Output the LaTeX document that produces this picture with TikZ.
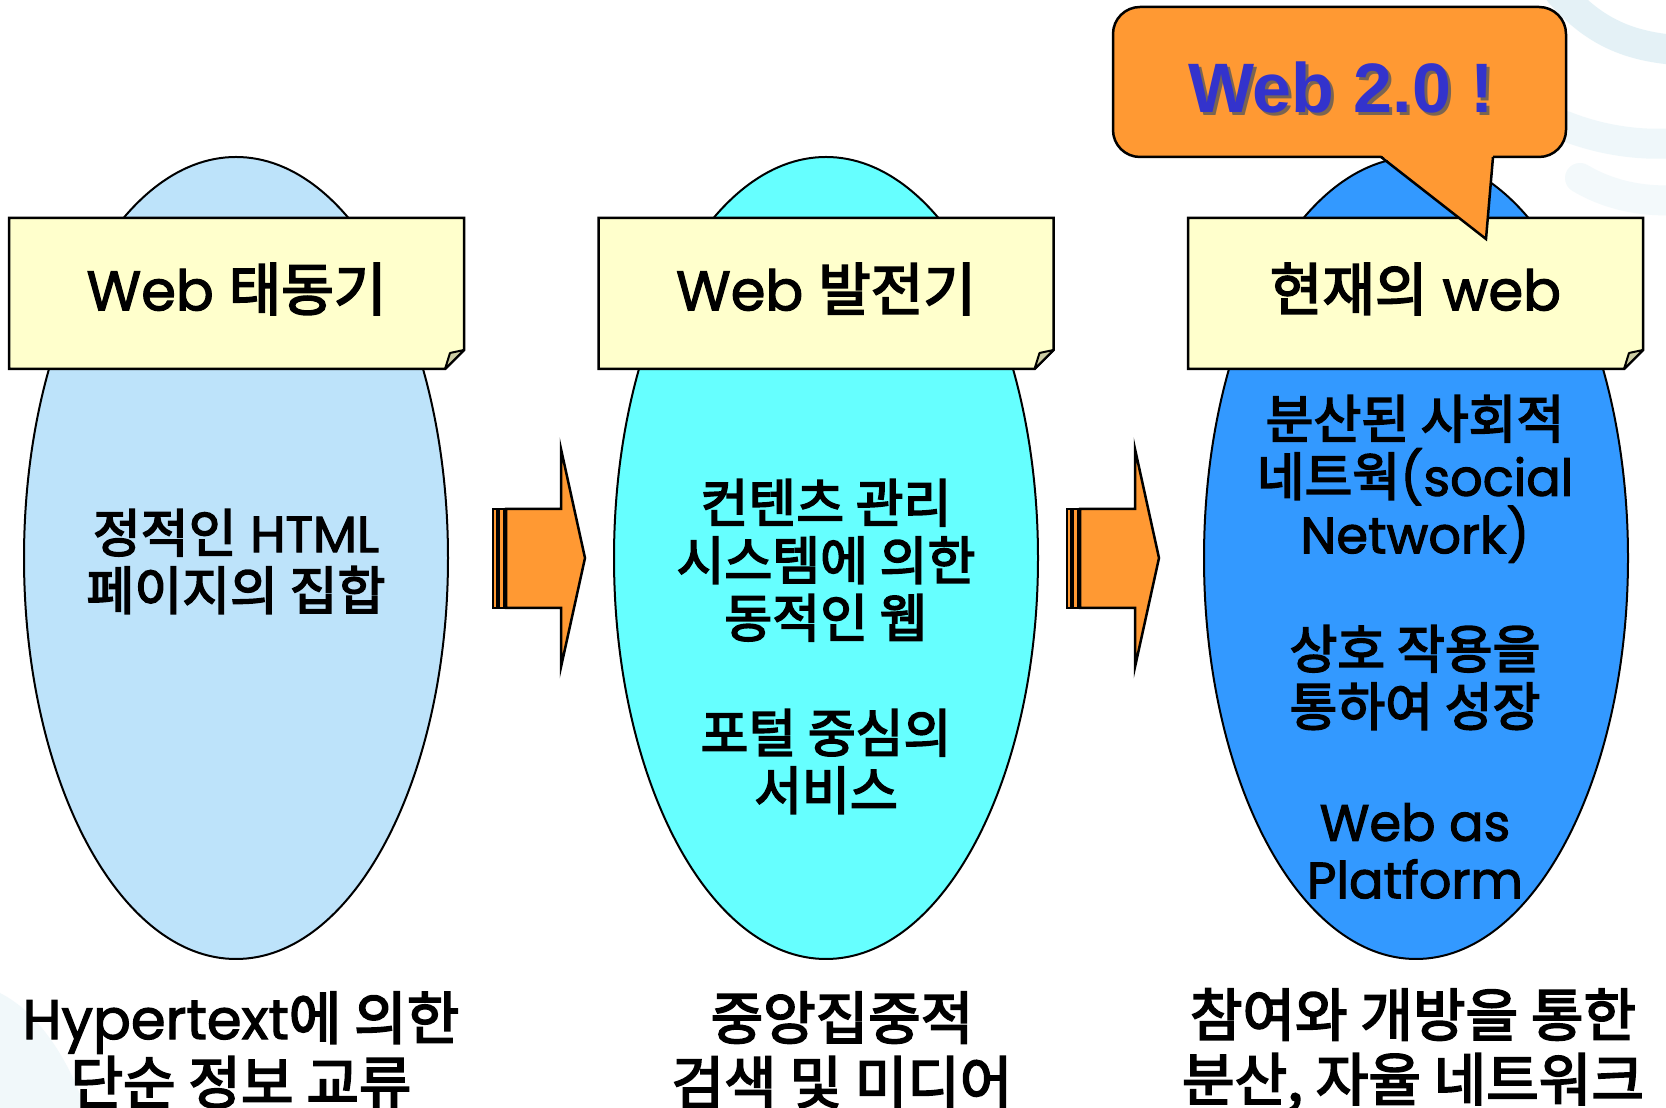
\documentclass[tikz,border=0pt]{standalone}
\usepackage{fontspec}
\setmainfont{Poppins}[FakeBold=2]
\newfontfamily\hangul{Noto Sans CJK KR}[Scale=1.02, FakeBold=3.2]
\newfontfamily\headfont{Liberation Sans}
\newcommand{\ko}[1]{{\hangul #1}}
\usetikzlibrary{shapes.geometric}

\definecolor{skyfill}{RGB}{189,227,250}
\definecolor{aquafill}{RGB}{102,255,255}
\definecolor{bluefill}{RGB}{51,153,255}
\definecolor{notefill}{RGB}{255,255,204}
\definecolor{foldfill}{RGB}{204,204,163}
\definecolor{orangefill}{RGB}{255,153,51}
\definecolor{webblue}{RGB}{51,51,204}
\definecolor{swirlblue}{RGB}{160,208,226}

\begin{document}
\begin{tikzpicture}[x=1pt, y=1pt,
    oval/.style={draw, ellipse, line width=2pt, minimum width=424pt, minimum height=802pt, inner sep=0pt},
    note/.style={draw, fill=notefill, line width=2.5pt},
    fold/.style={draw, fill=foldfill, line width=2pt, line join=round},
    title/.style={minimum width=455pt, minimum height=151pt, inner sep=0pt, font=\fontsize{56}{60}\selectfont},
    txt/.style={align=center, font=\fontsize{51}{57.5}\selectfont},
    foot/.style={align=center, font=\fontsize{56}{64.5}\selectfont},
    block/.style={draw, fill=orangefill, line width=2.5pt},
    bubble/.style={draw, fill=orangefill, line width=2.5pt, rectangle, rounded corners=27pt,
        minimum width=453pt, minimum height=150pt, inner sep=0pt},
    headline/.style={font=\headfont\bfseries\fontsize{70}{70}\selectfont},
    swirl/.style={draw=swirlblue, line width=30pt, line cap=round, opacity=.28}]

\fill[white] (0,0) rectangle (1666,1108);
\useasboundingbox (0,0) rectangle (1666,1108);

% faint background
\draw[swirl] (1560,1115) .. controls (1595,1075) and (1630,1062) .. (1675,1058);
\draw[swirl, opacity=.16] (1565,982) .. controls (1600,968) and (1640,962) .. (1675,965);
\draw[swirl, opacity=.12] (1580,930) .. controls (1610,912) and (1645,906) .. (1675,908);
\fill[swirlblue, opacity=.14] (0,0) -- (0,115) .. controls (40,95) and (70,45) .. (85,0) -- cycle;

% stages
\node[oval, fill=skyfill]  (e1) at (236,550) {};
\node[oval, fill=aquafill] (e2) at (826,550) {};
\node[oval, fill=bluefill] (e3) at (1416,550) {};

\foreach \x in {236.5,826,1415.5} {
    \filldraw[note] (\x-227.5,739) -- (\x+208.5,739) -- (\x+227.5,758) -- (\x+227.5,890)
        -- (\x-227.5,890) -- cycle;
    \filldraw[fold] (\x+227.5,758) -- (\x+213.5,755) -- (\x+208.5,739) -- cycle;
}
\node[title] (t1) at (236.5,819) {Web \ko{태동기}};
\node[title] (t2) at (826,819) {Web \ko{발전기}};
\node[title] (t3) at (1415.5,819) {\ko{현재의} web};

% callout
\node[bubble] (c1) at (1339.5,1026) {};
\coordinate (tip) at (1486,869);
\fill[orangefill] (1381,953) -- (tip) -- (1493,953) -- cycle;
\draw[line width=2.5pt] (1381,951) -- (tip) -- (1493,951);
\node[headline, text=black!65, opacity=.8] (w20s) at (1344,1018) {Web 2.0 !};
\node[headline, text=webblue] (w20) at (1341,1021) {Web 2.0 !};

% arrows
\foreach \x in {493,1067} {
    \filldraw[block] (\x+13,500) -- (\x+68,500) -- (\x+68,441) -- (\x+92,550)
        -- (\x+68,659) -- (\x+68,599) -- (\x+13,599) -- cycle;
    \filldraw[block] (\x,500) rectangle (\x+4,599);
    \filldraw[block] (\x+6,500) rectangle (\x+11,599);
}

% texts
\node[txt] (s1) at (236,546.5) {\ko{정적인} HTML\\\ko{페이지의 집합}};
\node[txt] (s2) at (826,461.5) {\ko{컨텐츠 관리}\\\ko{시스템에 의한}\\\ko{동적인 웹}\\[57.5pt]\ko{포털 중심의}\\\ko{서비스}};
\node[txt] (s3) at (1415,461) {\ko{분산된 사회적}\\\ko{네트웍}(social\\Network)\\[57.5pt]\ko{상호 작용을}\\\ko{통하여 성장}\\[57.5pt]Web as\\Platform};

\node[foot] (b1) at (241,58) {Hypertext\ko{에 의한}\\\ko{단순 정보 교류}};
\node[foot] (b2) at (842,58) {\ko{중앙집중적}\\\ko{검색 및 미디어}};
\node[foot] (b3) at (1413,58) {\ko{참여와 개방을 통한}\\\ko{분산, 자율 네트워크}};
\end{tikzpicture}
\end{document}
